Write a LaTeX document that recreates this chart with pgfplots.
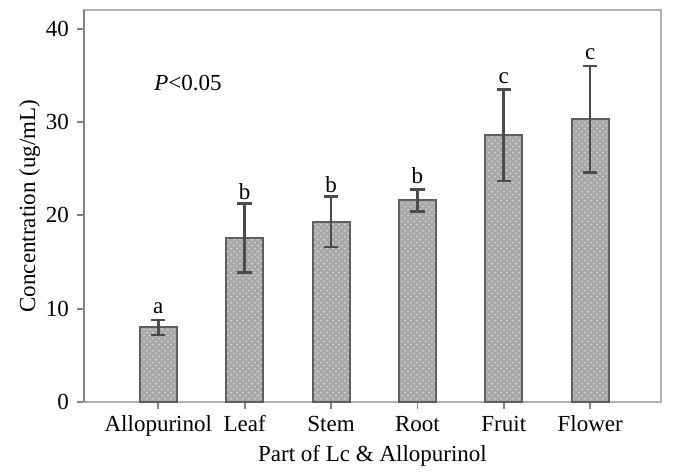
\documentclass[border=0pt]{standalone}
\usepackage{pgfplots}
\pgfplotsset{compat=1.18}
\usepackage{pgfplotstable}
\usepackage{fontspec}
\setmainfont{Liberation Serif}
\usetikzlibrary{patterns}
\definecolor{barfill}{RGB}{168,168,168}
\definecolor{patc}{RGB}{212,212,212}
\definecolor{bardraw}{RGB}{95,95,95}
\definecolor{errc}{RGB}{75,75,75}
\definecolor{framec}{RGB}{175,175,175}
\definecolor{axc}{RGB}{130,130,130}

\pgfplotstableread{
x y err
0 8.0 0.8
1 17.6 3.7
2 19.3 2.7
3 21.6 1.2
4 28.6 4.9
5 30.3 5.7
}\datatable

\begin{document}
\fontsize{11.5}{13}\selectfont
\begin{tikzpicture}
\begin{axis}[
  scale only axis, width=288.5pt, height=196pt,
  xmin=-0.86, xmax=5.82, ymin=0, ymax=42,
  xtick={0,1,2,3,4,5},
  xticklabels={Allopurinol,Leaf,Stem,Root,Fruit,Flower},
  ytick={0,10,20,30,40},
  axis line style={draw=framec, line width=1.2pt},
  tick style={draw=axc, line width=0.9pt},
  tick align=outside, major tick length=3.5pt,
  xtick pos=bottom, ytick pos=left,
  ylabel={Concentration (ug/mL)},
  xlabel={Part of Lc \& Allopurinol},
  ylabel style={yshift=-5pt},
  xlabel style={yshift=3pt},
  /pgf/number format/assume math mode=true,
  ticklabel style={font=\fontsize{11.5}{13}\selectfont},
  xticklabel style={text height=1.6ex, text depth=0.3ex, yshift=1pt},
  label style={font=\fontsize{11.5}{13}\selectfont},
  clip=false,
]
\addplot[ybar, bar width=18.5pt, fill=barfill, draw=bardraw, line width=1pt,
  postaction={pattern=crosshatch dots, pattern color=patc}]
  table[x=x, y=y] {\datatable};
\addplot[draw=none, mark=none, forget plot,
  error bars/.cd, y dir=both, y explicit,
  error bar style={errc, line width=1.3pt},
  error mark options={errc, rotate=90, mark size=3.6pt, line width=1.3pt}]
  table[x=x, y=y, y error=err] {\datatable};
\draw[axc, line width=1.2pt] (axis cs:-0.86,0) -- (axis cs:-0.86,42);
\node at (axis cs:0,10.0) {a};
\node at (axis cs:1,22.5) {b};
\node at (axis cs:2,23.3) {b};
\node at (axis cs:3,24.3) {b};
\node at (axis cs:4,34.7) {c};
\node at (axis cs:5,37.3) {c};
\node[anchor=west] at (axis cs:-0.14,34.2) {\textit{P}<0.05};
\path (rel axis cs:0,0) ++(-42pt,-35pt) coordinate (bbA);
\path (rel axis cs:1,1) ++(6pt,5pt) coordinate (bbB);
\end{axis}
\useasboundingbox (bbA) rectangle (bbB);
\end{tikzpicture}
\end{document}
